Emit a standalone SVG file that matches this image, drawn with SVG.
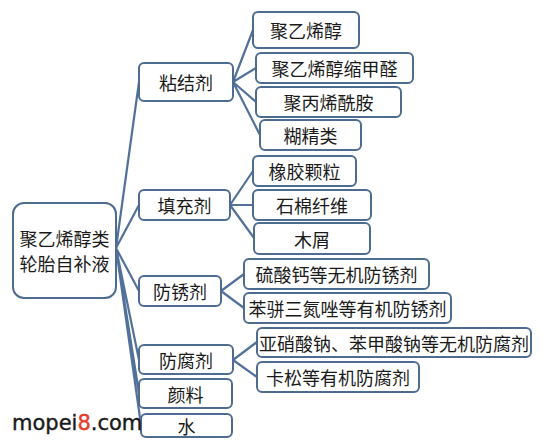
<svg xmlns="http://www.w3.org/2000/svg" width="554" height="445" viewBox="0 0 554 445">
<style>
.box{fill:#fff;stroke:#4e6b90;stroke-width:2}
.t{font-family:"Noto Sans CJK SC","Liberation Sans",sans-serif;font-size:18px;fill:#1a1a1a;text-anchor:middle;dominant-baseline:central}
.c{stroke:#52719a;stroke-width:2.2;fill:none}
</style>
<rect width="554" height="445" fill="#fff"/>
<g id="connectors">
<path class="c" d="M116,248 L139,82 M116,248 L139,205 M116,248 L139,291 M116,248 L139,360 M116,248 L139,393 M116,248 L141,425"/>
<path class="c" d="M233,82 L253,30 M233,82 L256,68 M233,82 L256,102 M233,82 L260,135"/>
<path class="c" d="M230,205 L253,171 M230,205 L253,205 M230,205 L254,238"/>
<path class="c" d="M221,291 L244,274 M221,291 L244,308"/>
<path class="c" d="M233,360 L257,342 M233,360 L257,377"/>
</g>
<g id="root"><rect class="box" x="13" y="203" width="103" height="95" rx="11"/><text class="t" x="64.500" y="238">聚乙烯醇类</text><text class="t" x="64.500" y="263">轮胎自补液</text></g>
<g id="n1"><rect class="box" x="139" y="63" width="94" height="38" rx="5"/><text class="t" x="186" y="82">粘结剂</text></g>
<g id="n2"><rect class="box" x="139" y="190" width="91" height="30" rx="5"/><text class="t" x="184.500" y="205">填充剂</text></g>
<g id="n3"><rect class="box" x="139" y="276" width="82" height="30" rx="5"/><text class="t" x="180" y="291">防锈剂</text></g>
<g id="n4"><rect class="box" x="139" y="345" width="94" height="29" rx="5"/><text class="t" x="186" y="360">防腐剂</text></g>
<g id="n5"><rect class="box" x="139" y="379" width="93" height="29" rx="5"/><text class="t" x="185.500" y="393.500">颜料</text></g>
<g id="n6"><rect class="box" x="141" y="414" width="91" height="23" rx="5"/><text class="t" x="186.500" y="425.500">水</text></g>
<g id="a1"><rect class="box" x="253" y="12" width="106" height="36" rx="5"/><text class="t" x="306" y="30">聚乙烯醇</text></g>
<g id="a2"><rect class="box" x="256" y="53" width="157" height="30" rx="5"/><text class="t" x="334.500" y="68">聚乙烯醇缩甲醛</text></g>
<g id="a3"><rect class="box" x="256" y="87" width="145" height="30" rx="5"/><text class="t" x="328.500" y="102">聚丙烯酰胺</text></g>
<g id="a4"><rect class="box" x="260" y="120" width="101" height="30" rx="5"/><text class="t" x="310.500" y="135">糊精类</text></g>
<g id="b1"><rect class="box" x="253" y="156" width="103" height="30" rx="5"/><text class="t" x="304.500" y="171">橡胶颗粒</text></g>
<g id="b2"><rect class="box" x="253" y="190" width="118" height="30" rx="5"/><text class="t" x="312" y="205">石棉纤维</text></g>
<g id="b3"><rect class="box" x="254" y="223" width="116" height="31" rx="5"/><text class="t" x="312" y="238.500">木屑</text></g>
<g id="c1"><rect class="box" x="244" y="259" width="185" height="30" rx="5"/><text class="t" x="336.500" y="274">硫酸钙等无机防锈剂</text></g>
<g id="c2"><rect class="box" x="244" y="293" width="207" height="30" rx="5"/><text class="t" x="347.500" y="308">苯骈三氮唑等有机防锈剂</text></g>
<g id="d1"><rect class="box" x="257" y="328" width="274" height="29" rx="5"/><text class="t" x="394" y="342.500">亚硝酸钠、苯甲酸钠等无机防腐剂</text></g>
<g id="d2"><rect class="box" x="257" y="362" width="162" height="30" rx="5"/><text class="t" x="338" y="377">卡松等有机防腐剂</text></g>
<text x="12" y="430" font-family="DejaVu Sans, sans-serif" font-size="21" fill="#1a1a1a" stroke="#1a1a1a" stroke-width="0.4">mopei<tspan fill="#e5402a" stroke="#e5402a">8</tspan>.com</text>
</svg>
